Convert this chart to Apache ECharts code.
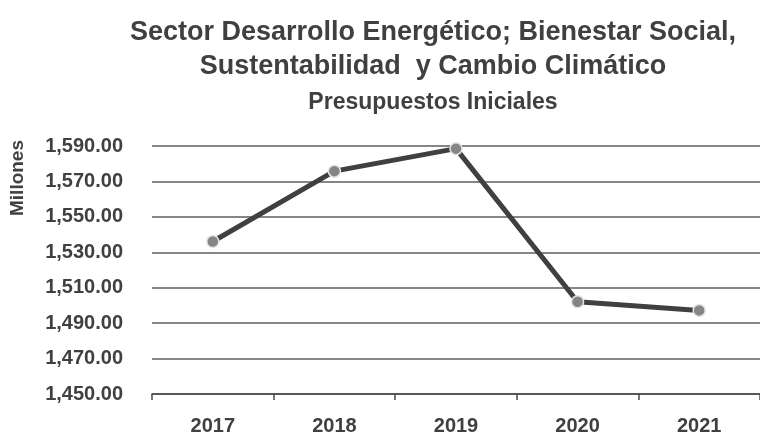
<!DOCTYPE html>
<html>
<head>
<meta charset="utf-8">
<script src="https://cdn.jsdelivr.net/npm/echarts@6/dist/echarts.min.js"></script>
<style>html,body{margin:0;padding:0;background:#fff}#c{width:760px;height:436px}</style>
</head>
<body>
<div id="c"></div>
<script>
const years = ['2017', '2018', '2019', '2020', '2021'];
const presupuesto = [1536.1, 1575.8, 1588.5, 1502.1, 1497.2];
const titleLines = ['Sector Desarrollo Energético; Bienestar Social,', 'Sustentabilidad  y Cambio Climático'];
const subtitle = 'Presupuestos Iniciales';
const yName = 'Millones';

const FONT = '"Liberation Sans", Arial, sans-serif';
const TXT = '#404040';

const chart = echarts.init(document.getElementById('c'), null, {renderer: 'canvas'});
chart.setOption({
  animation: false,
  backgroundColor: '#ffffff',
  title: [
    {text: titleLines.join('\n'), left: 428, top: 11, textAlign: 'center',
     textStyle: {fontFamily: FONT, fontWeight: 'bold', fontSize: 27, lineHeight: 34, color: TXT}},
    {text: subtitle, left: 428, top: 86, textAlign: 'center',
     textStyle: {fontFamily: FONT, fontWeight: 'bold', fontSize: 23, color: TXT}}
  ],
  graphic: [{
    type: 'text', x: 18, y: 178, rotation: Math.PI / 2,
    style: {text: yName, fill: TXT, font: 'bold 19px ' + FONT, textAlign: 'center', textVerticalAlign: 'middle'}
  }],
  grid: {left: 152, width: 615, top: 146, height: 249, containLabel: false},
  xAxis: {
    type: 'category', data: years, boundaryGap: true,
    axisLine: {lineStyle: {color: '#4a4a4a', width: 1.5}},
    axisTick: {show: true, length: 6, lineStyle: {color: '#4a4a4a', width: 1.5}},
    axisLabel: {margin: 22, fontFamily: FONT, fontWeight: 'bold', fontSize: 20, color: TXT}
  },
  yAxis: {
    type: 'value', min: 1450, max: 1590, interval: 20,
    axisLine: {show: false}, axisTick: {show: false},
    splitLine: {show: true, lineStyle: {color: '#5e5e5e', width: 1.5}},
    axisLabel: {margin: 29, fontFamily: FONT, fontWeight: 'bold', fontSize: 20, color: TXT,
      formatter: v => v.toLocaleString('en-US', {minimumFractionDigits: 2, maximumFractionDigits: 2})}
  },
  series: [{
    type: 'line', data: presupuesto,
    lineStyle: {color: '#404040', width: 5},
    symbol: 'circle', symbolSize: 12,
    itemStyle: {color: '#858585', borderColor: '#e4e4e4', borderWidth: 1.5},
    z: 3
  }]
});
</script>
</body>
</html>
